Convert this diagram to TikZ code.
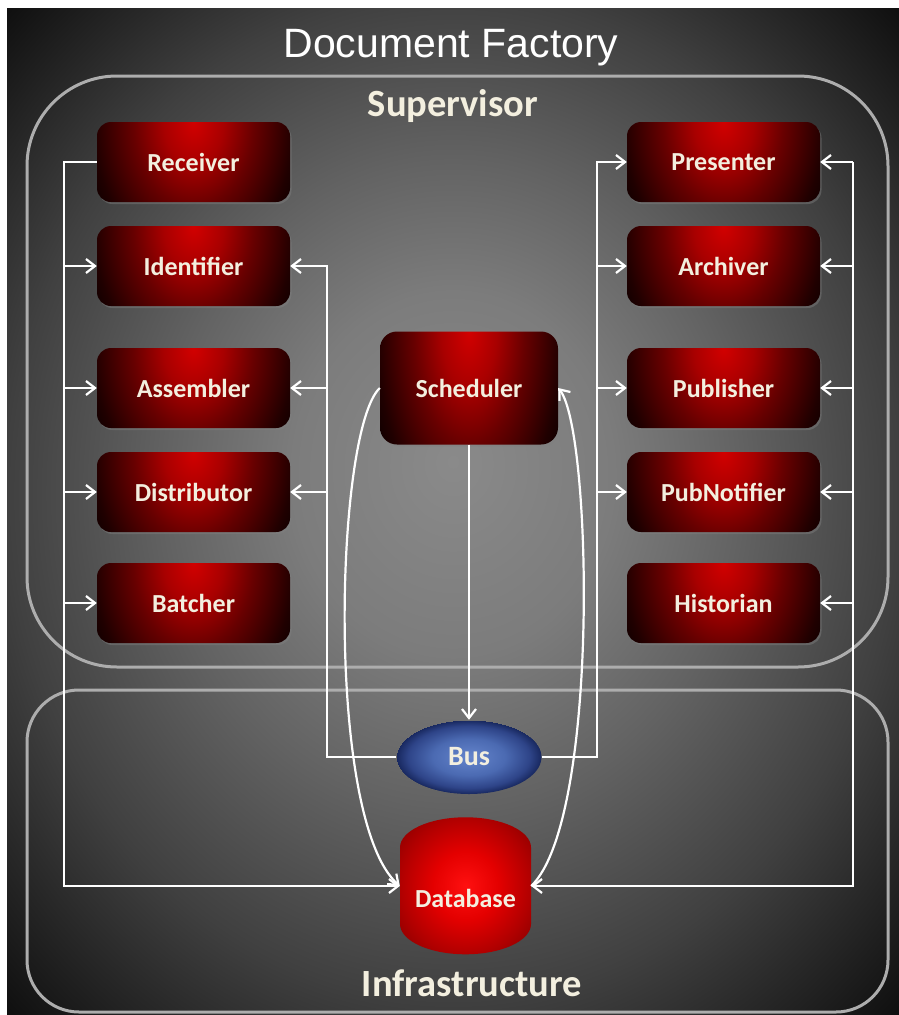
\documentclass[tikz,border=0pt]{standalone}
\usepackage{fontspec}
\setmainfont{Liberation Sans}
\newfontfamily\calib{Carlito}
\usetikzlibrary{shapes.geometric,arrows.meta,shadows}

% palette
\definecolor{bgA}{HTML}{8A8A8A}
\definecolor{bgB}{HTML}{7C7C7C}
\definecolor{bgC}{HTML}{636363}
\definecolor{bgD}{HTML}{404040}
\definecolor{bgE}{HTML}{282828}
\definecolor{bgF}{HTML}{0C0C0C}
\definecolor{frameline}{HTML}{ADADAD}
\definecolor{cream}{HTML}{F3EFDF}
\definecolor{redA}{HTML}{D20000}
\definecolor{redB}{HTML}{A80000}
\definecolor{redC}{HTML}{680000}
\definecolor{redD}{HTML}{200000}
\definecolor{redE}{HTML}{080000}
\definecolor{busA}{HTML}{6585CC}
\definecolor{busB}{HTML}{4B6AB2}
\definecolor{busC}{HTML}{2E4488}
\definecolor{busD}{HTML}{18285F}
\definecolor{dbA}{HTML}{FF1010}
\definecolor{dbB}{HTML}{E40000}
\definecolor{dbC}{HTML}{B00000}
\definecolor{dbD}{HTML}{900000}

% radial shadings; a shaded path's half-size corresponds to about 25bp
\pgfdeclareradialshading{bgshade}{\pgfpoint{0bp}{2.5bp}}{%
  color(0bp)=(bgA); color(9bp)=(bgB); color(16bp)=(bgC); color(25bp)=(bgD);
  color(30bp)=(bgE); color(36bp)=(bgF)}
\pgfdeclareradialshading{boxshade}{\pgfpoint{0bp}{0bp}}{%
  color(0bp)=(redA); color(7.5bp)=(redB); color(15bp)=(redC); color(25bp)=(redD); color(30bp)=(redE)}
\pgfdeclareradialshading{busshade}{\pgfpoint{0bp}{0bp}}{%
  color(0bp)=(busA); color(12.5bp)=(busB); color(21bp)=(busC); color(25bp)=(busD)}
\pgfdeclareradialshading{dbshade}{\pgfpoint{0bp}{0bp}}{%
  color(0bp)=(dbA); color(12.5bp)=(dbB); color(25bp)=(dbC); color(32bp)=(dbD)}

\begin{document}
\begin{tikzpicture}[x=1pt,y=-1pt,
  module/.style={rectangle, rounded corners=14pt, minimum width=193pt, minimum height=80pt,
    inner sep=0pt, text=cream,
    font=\calib\bfseries\fontsize{26}{30}\selectfont,
    path picture={\shade[shading=boxshade]
      ([xshift=-100pt,yshift=140pt]path picture bounding box.north) rectangle
      ([xshift=100pt,yshift=-140pt]path picture bounding box.north);},
    drop shadow={opacity=0.45, shadow xshift=1.5pt, shadow yshift=-2pt}},
  bigmodule/.style={module, minimum width=178pt, minimum height=113pt, rounded corners=17pt,
    path picture={\shade[shading=boxshade]
      ([xshift=-92pt,yshift=190pt]path picture bounding box.north) rectangle
      ([xshift=92pt,yshift=-190pt]path picture bounding box.north);}},
  group/.style={draw=frameline, line width=3pt},
  grouplabel/.style={text=cream, font=\calib\bfseries\fontsize{38.5}{44}\selectfont},
  wire/.style={draw=white, line width=2.2pt},
  feed/.style={wire, -{Straight Barb[length=9pt,width=14pt]}},
]
\useasboundingbox (0,0) rectangle (899,1015);
\fill[white] (0,0) rectangle (899,1015);
\shade[shading=bgshade] (7,8) rectangle (899,1015);

% title and the two groups
\node[text=white, font=\fontsize{41}{48}\selectfont] (title) at (451,48) {Document Factory};
\draw[group, rounded corners=90pt] (27,76) rectangle (888,667);
\draw[group, rounded corners=52pt] (27,690) rectangle (888,1012);
\node[grouplabel] (suplabel) at (453,106) {Supervisor};
\node[grouplabel] (inflabel) at (472,983) {Infrastructure};

% supervisor modules
\node[module] (rec) at (193.5,162) {Receiver};
\node[module] (ide) at (193.5,266) {Identifier};
\node[module] (asm) at (193.5,388) {Assembler};
\node[module] (dis) at (193.5,492) {Distributor};
\node[module] (bat) at (193.5,603) {Batcher};
\node[module] (pre) at (723.5,162) {Presenter};
\node[module] (arc) at (723.5,266) {Archiver};
\node[module] (pub) at (723.5,388) {Publisher};
\node[module] (pno) at (723.5,492) {PubNotifier};
\node[module] (his) at (723.5,603) {Historian};
\node[bigmodule] (sch) at (469,388) {Scheduler};

% infrastructure
\node[ellipse, minimum width=145pt, minimum height=74pt, inner sep=0pt,
  shading=busshade, text=cream,
  font=\calib\bfseries\fontsize{28}{32}\selectfont] (bus) at (469,757) {Bus};
\node[cylinder, shape border rotate=90, aspect=0.6, minimum width=131pt, minimum height=137pt,
  inner sep=0pt, shading=dbshade, text=cream,
  font=\calib\bfseries\fontsize{26}{30}\selectfont] (db) at (465.5,901)
  {\raisebox{-6pt}[0pt][0pt]{Database}};

% trunk positions
\coordinate (lt) at (64,162);
\coordinate (rt) at (853,162);
\coordinate (bl) at (327,0);
\coordinate (br) at (597,0);
% entry points on the database sides
\coordinate (dbw) at ([yshift=15pt]db.west);
\coordinate (dbe) at ([yshift=15pt]db.east);

% left trunk: receiver down to the database, feeding the left modules
\draw[feed] (rec.west) -- (lt) |- (dbw);
\draw[feed] (lt |- ide.west) -- (ide.west);
\draw[feed] (lt |- asm.west) -- (asm.west);
\draw[feed] (lt |- dis.west) -- (dis.west);
\draw[feed] (lt |- bat.west) -- (bat.west);

% right trunk
\draw[feed] (rt) |- (dbe);
\draw[feed] (rt) -- (pre.east);
\draw[feed] (rt |- arc.east) -- (arc.east);
\draw[feed] (rt |- pub.east) -- (pub.east);
\draw[feed] (rt |- pno.east) -- (pno.east);
\draw[feed] (rt |- his.east) -- (his.east);

% bus fan-out
\draw[feed] (bus.west) -| (bl |- ide.east) -- (ide.east);
\draw[feed] (bl |- asm.east) -- (asm.east);
\draw[feed] (bl |- dis.east) -- (dis.east);
\draw[feed] (bus.east) -| (br |- pre.west) -- (pre.west);
\draw[feed] (br |- arc.west) -- (arc.west);
\draw[feed] (br |- pub.west) -- (pub.west);
\draw[feed] (br |- pno.west) -- (pno.west);

% scheduler links
\draw[feed] (sch.south) -- (bus.north);
\draw[feed] (sch.west) .. controls (335,430) and (325,820) .. (dbw);
\draw[feed] (dbe) .. controls (600,820) and (592,430) .. (sch.east);
\end{tikzpicture}
\end{document}
